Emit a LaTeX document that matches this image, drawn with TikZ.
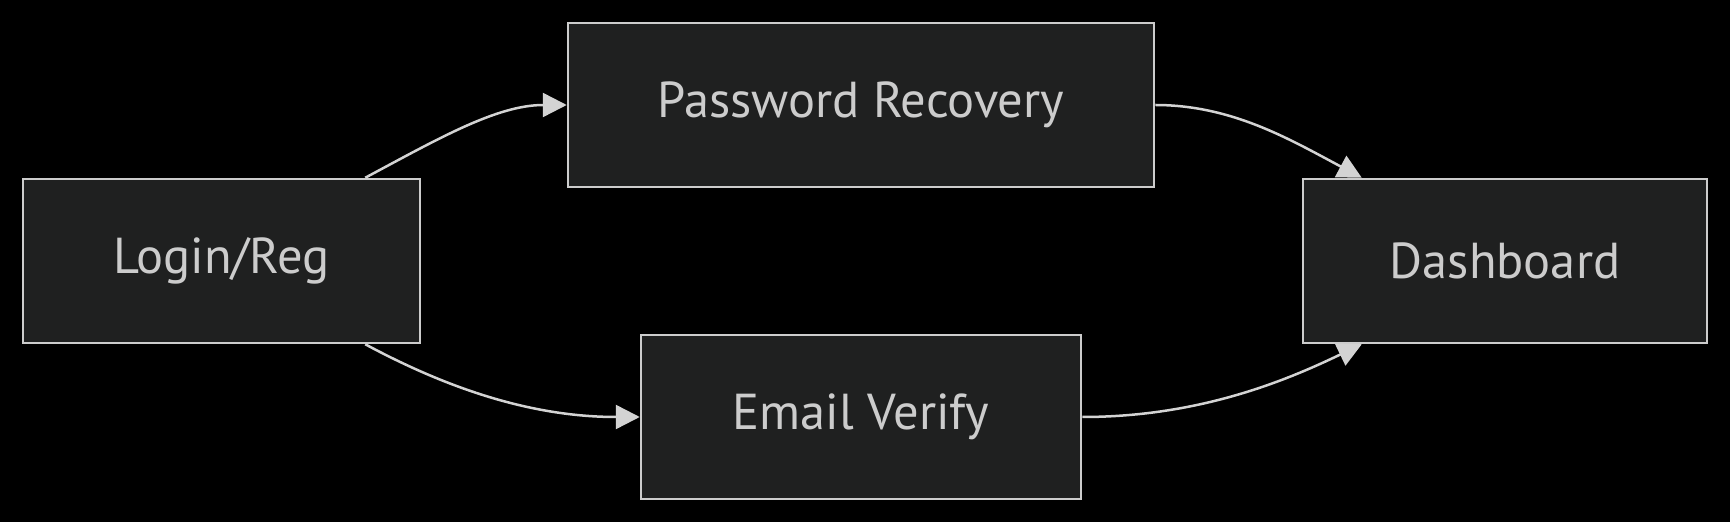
\documentclass[tikz,border=0pt]{standalone}
\definecolor{nodefill}{RGB}{31, 32, 32}
\definecolor{nodeline}{RGB}{204, 204, 204}
\definecolor{edgegrey}{RGB}{211, 211, 211}
\usepackage{fontspec}
\setmainfont{PT Sans}
\usepackage{tikz}
\usetikzlibrary{arrows.meta, positioning, calc}

\begin{document}
\begin{tikzpicture}[x=1pt, y=1pt,
    stagebox/.style={draw=nodeline, fill=nodefill, line width=2.5pt, text=nodeline,
      minimum height=164pt, inner sep=0pt, font=\fontsize{50.5}{60}\selectfont},
    flowarrow/.style={draw=edgegrey, line width=2.5pt,
      -{Triangle[length=24pt, width=24pt]}}]
  \fill[black] (0,0) rectangle (1730,522);
  \node[stagebox, minimum width=397pt] (login) at (221.5, 261) {Login/Reg};
  \node[stagebox, minimum width=586pt] (recovery) at (861, 417) {Password Recovery};
  \node[stagebox, minimum width=440pt] (verify) at (861, 105) {Email Verify};
  \node[stagebox, minimum width=404pt] (dash) at (1505, 261) {Dashboard};
  \draw[flowarrow] ([xshift=-56pt]login.north east) .. controls +(73,39) and +(-70,0) .. (recovery.west);
  \draw[flowarrow] (recovery.east) .. controls +(76,0) and +(-73,39) .. ([xshift=60pt]dash.north west);
  \draw[flowarrow] ([xshift=-56pt]login.south east) .. controls +(80,-43) and +(-110,0) .. (verify.west);
  \draw[flowarrow] (verify.east) .. controls +(119,0) and +(-73,-35) .. ([xshift=60pt]dash.south west);
\end{tikzpicture}
\end{document}
